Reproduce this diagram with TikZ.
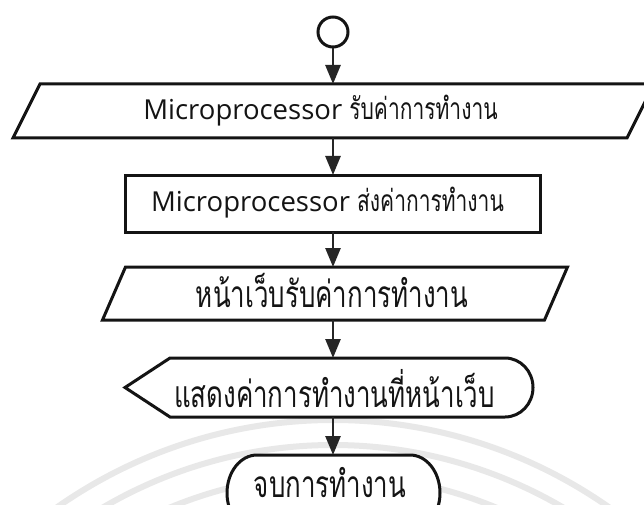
\documentclass[tikz,border=0pt]{standalone}
\usepackage{fontspec}
\setmainfont{Open Sans}
\newfontfamily\thaifont[Script=Thai, FakeStretch=0.7]{Loma}
\usetikzlibrary{arrows.meta,backgrounds}
\newcommand\thx[1]{{\thaifont\fontsize{37}{42}\selectfont #1}}
\newcommand\thy[1]{{\thaifont\fontsize{30}{34}\selectfont #1}}
\begin{document}
\begin{tikzpicture}[x=1pt,y=1pt,
  shp/.style={draw=black!92, line width=3pt, fill=white, line join=miter},
  frame/.style={inner sep=0pt, outer sep=0pt},
  arr/.style={draw=black!85, line width=2.6pt, -{Triangle[length=19pt,width=15pt]}},
  lbl/.style={inner sep=0pt, anchor=base, text=black!92, font=\fontsize{27.5}{32}\selectfont},
  wm/.style={draw=black!9, line width=6pt}]
\useasboundingbox (0,0) rectangle (644,-505);
\clip (0,0) rectangle (644,-505);

% frames (anchors of the shapes)
\node[circle, draw=black!92, line width=3pt, minimum size=30pt, inner sep=0pt, fill=white] (start) at (333,-32) {};
\node[frame, minimum width=614pt, minimum height=54pt] (p1) at (333.5,-111) {};
\node[frame, minimum width=415pt, minimum height=57pt] (r) at (332.5,-203.5) {};
\node[frame, minimum width=442pt, minimum height=53pt] (p2) at (335,-293.5) {};
\node[frame, minimum width=408pt, minimum height=59pt] (d) at (329,-387.5) {};
\node[frame, minimum width=213pt, minimum height=76pt] (t) at (333.5,-493) {};

\begin{pgfonlayer}{background}
\clip (0,0) rectangle (644,-505);
\fill[white] (0,0) rectangle (644,-505);
% faint watermark
\draw[wm] (333,-900) ++(38:480) arc[start angle=38,end angle=142,radius=480];
\draw[wm] (333,-900) ++(38:455) arc[start angle=38,end angle=142,radius=455];
\draw[wm] (333,-900) ++(38:425) arc[start angle=38,end angle=142,radius=425];
% shapes
\draw[shp] ([xshift=-13.5pt]p1.south west) -- ([xshift=13.5pt]p1.north west) -- ([xshift=13.5pt]p1.north east) -- ([xshift=-13.5pt]p1.south east) -- cycle;
\draw[shp] (r.south west) rectangle (r.north east);
\draw[shp] ([xshift=-11.5pt]p2.south west) -- ([xshift=11.5pt]p2.north west) -- ([xshift=11.5pt]p2.north east) -- ([xshift=-11.5pt]p2.south east) -- cycle;
\draw[shp] (d.west) -- ([xshift=45pt]d.north west) -- ([xshift=-28pt]d.north east) arc[start angle=90, end angle=-90, x radius=28pt, y radius=29.5pt] -- ([xshift=45pt]d.south west) -- cycle;
\draw[shp] ([xshift=30pt]t.north west) -- ([xshift=-30pt]t.north east) arc[start angle=90,end angle=-90,x radius=30pt,y radius=38pt] -- ([xshift=30pt]t.south west) arc[start angle=270,end angle=90,x radius=30pt,y radius=38pt] -- cycle;
\end{pgfonlayer}

% texts
\node[lbl] (p1t) at (320.5,-120) {Microprocessor \thy{รับค่าการทำงาน}};
\node[lbl] (rt) at (327.5,-211) {Microprocessor \thy{ส่งค่าการทำงาน}};
\node[lbl] (p2t) at (332,-307) {\thx{หน้าเว็บรับค่าการทำงาน}};
\node[lbl] (dt) at (334.5,-407) {\thx{แสดงค่าการทำงานที่หน้าเว็บ}};
\node[lbl] (tt) at (330,-497) {\thx{จบการทำงาน}};

% connectors
\draw[arr] (start.south) -- (start.south |- p1.north);
\draw[arr] (start.south |- p1.south) -- (start.south |- r.north);
\draw[arr] (start.south |- r.south) -- (start.south |- p2.north);
\draw[arr] (start.south |- p2.south) -- (start.south |- d.north);
\draw[arr] (start.south |- d.south) -- (start.south |- t.north);
\end{tikzpicture}
\end{document}
